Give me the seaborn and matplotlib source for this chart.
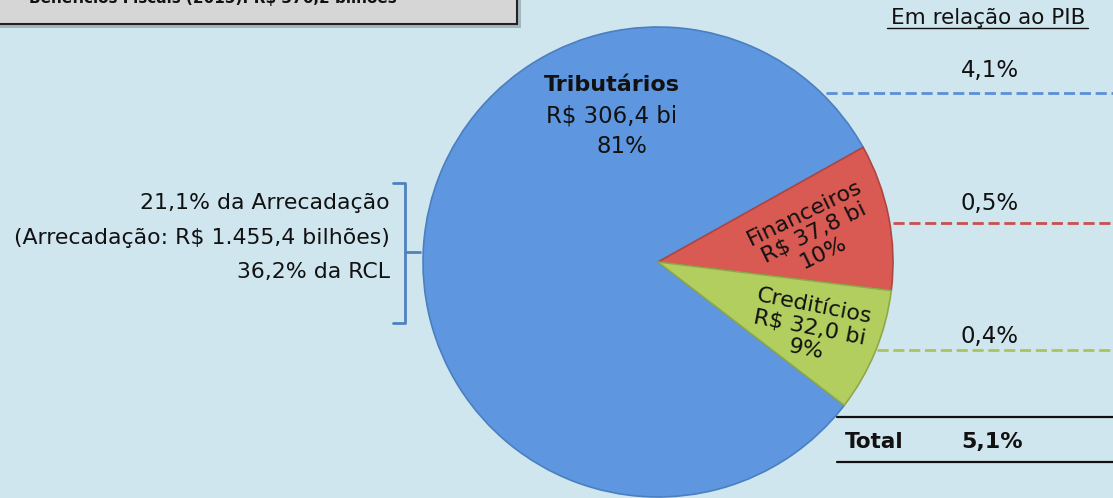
import matplotlib
matplotlib.use('Agg')
import matplotlib.pyplot as plt
import seaborn as sns
from matplotlib.patches import FancyBboxPatch

# data
categorias = ['Tributários', 'Financeiros', 'Creditícios']
valores = [306.4, 37.8, 32.0]
rotulos_valor = ['R$ 306,4 bi', 'R$ 37,8 bi', 'R$ 32,0 bi']
rotulos_pct = ['81%', '10%', '9%']
pib = ['4,1%', '0,5%', '0,4%']
pib_total = '5,1%'
titulo = 'Benefícios Fiscais (2015): R$ 376,2 bilhões'
info_esq = ['21,1% da Arrecadação', '(Arrecadação: R$ 1.455,4 bilhões)', '36,2% da RCL']

cores = ['#5E97DF', '#D95A52', '#B2CE5E']
bordas = ['#4A7FC0', '#B04540', '#8FA84A']
linhas_cor = ['#5B8FD6', '#C9504C', '#A9C45A']
bg = '#D0E6EE'
txt = '#111111'

sns.set_theme(style='white')
plt.rcParams['font.family'] = ['DejaVu Sans']

W, H = 1113, 498
fig = plt.figure(figsize=(W / 100, H / 100), dpi=100, facecolor=bg)
ax = fig.add_axes([0, 0, 1, 1])
ax.set_facecolor(bg)


def Y(y):
    return H - y


cx, cy, r = 658, 262, 235
wedges, _ = ax.pie(valores, colors=cores, startangle=-37.6, counterclock=False,
                   center=(cx, Y(cy)), radius=r,
                   wedgeprops=dict(linewidth=1.2))
for w, b in zip(wedges, bordas):
    w.set_edgecolor(b)
ax.set_xlim(0, W)
ax.set_ylim(0, H)
ax.set_aspect('equal')
ax.axis('off')

# slice labels
ax.text(612, Y(85), categorias[0], ha='center', va='center', fontsize=16,
        fontweight='bold', color=txt)
ax.text(612, Y(116), rotulos_valor[0], ha='center', va='center', fontsize=16.5, color=txt)
ax.text(622, Y(146), rotulos_pct[0], ha='center', va='center', fontsize=16.5, color=txt)

ax.text(814, Y(233), f'{categorias[1]}\n{rotulos_valor[1]}\n{rotulos_pct[1]}',
        ha='center', va='center', fontsize=16, rotation=26, color=txt,
        linespacing=1.12, multialignment='center')
ax.text(810, Y(328), f'{categorias[2]}\n{rotulos_valor[2]}\n{rotulos_pct[2]}',
        ha='center', va='center', fontsize=16, rotation=-11, color=txt,
        linespacing=1.12, multialignment='center')

# right-hand PIB panel
ax.text(988, Y(18), 'Em relação ao PIB', ha='center', va='center', fontsize=15.5, color=txt)
ax.plot([887, 1088], [Y(28), Y(28)], color=txt, lw=1)
ys_txt = [70, 203, 336]
ys_lin = [93, 223, 350]
xs_ini = [826, 893, 877]
for t, yt, yl, x0, c in zip(pib, ys_txt, ys_lin, xs_ini, linhas_cor):
    ax.text(990, Y(yt), t, ha='center', va='center', fontsize=16.5, color=txt)
    ax.plot([x0, W], [Y(yl), Y(yl)], color=c, lw=2, ls=(0, (4, 1.7)))
ax.plot([837, W], [Y(417), Y(417)], color=txt, lw=1.6)
ax.plot([837, W], [Y(462), Y(462)], color=txt, lw=1.6)
ax.text(845, Y(442), 'Total', ha='left', va='center', fontsize=15.5, fontweight='bold', color=txt)
ax.text(992, Y(442), pib_total, ha='center', va='center', fontsize=16, fontweight='bold', color=txt)

# left info + bracket
for t, yt in zip(info_esq, [203, 238, 272]):
    ax.text(390, Y(yt), t, ha='right', va='center', fontsize=15.8, color=txt)
bx0, bx1 = 393, 405
ax.plot([bx0, bx1, bx1, bx0], [Y(183), Y(183), Y(323), Y(323)], color='#4F81BD', lw=2)
ax.plot([bx1, 420], [Y(252), Y(252)], color='#4F81BD', lw=2)

# title box (cut off at top, as in the source slide)
ax.add_patch(FancyBboxPatch((-20, Y(28)), 541, 60, boxstyle='square,pad=0',
                            facecolor='#7C8A90', edgecolor='none', alpha=0.5))
ax.add_patch(FancyBboxPatch((-20, Y(24)), 537, 60, boxstyle='square,pad=0',
                            facecolor='#D6D6D6', edgecolor='#222222', lw=1.5))
ax.text(213, Y(3), titulo, ha='center', va='baseline', fontsize=11,
        fontweight='bold', color=txt)

fig.savefig('out.png', dpi=100, facecolor=bg)
